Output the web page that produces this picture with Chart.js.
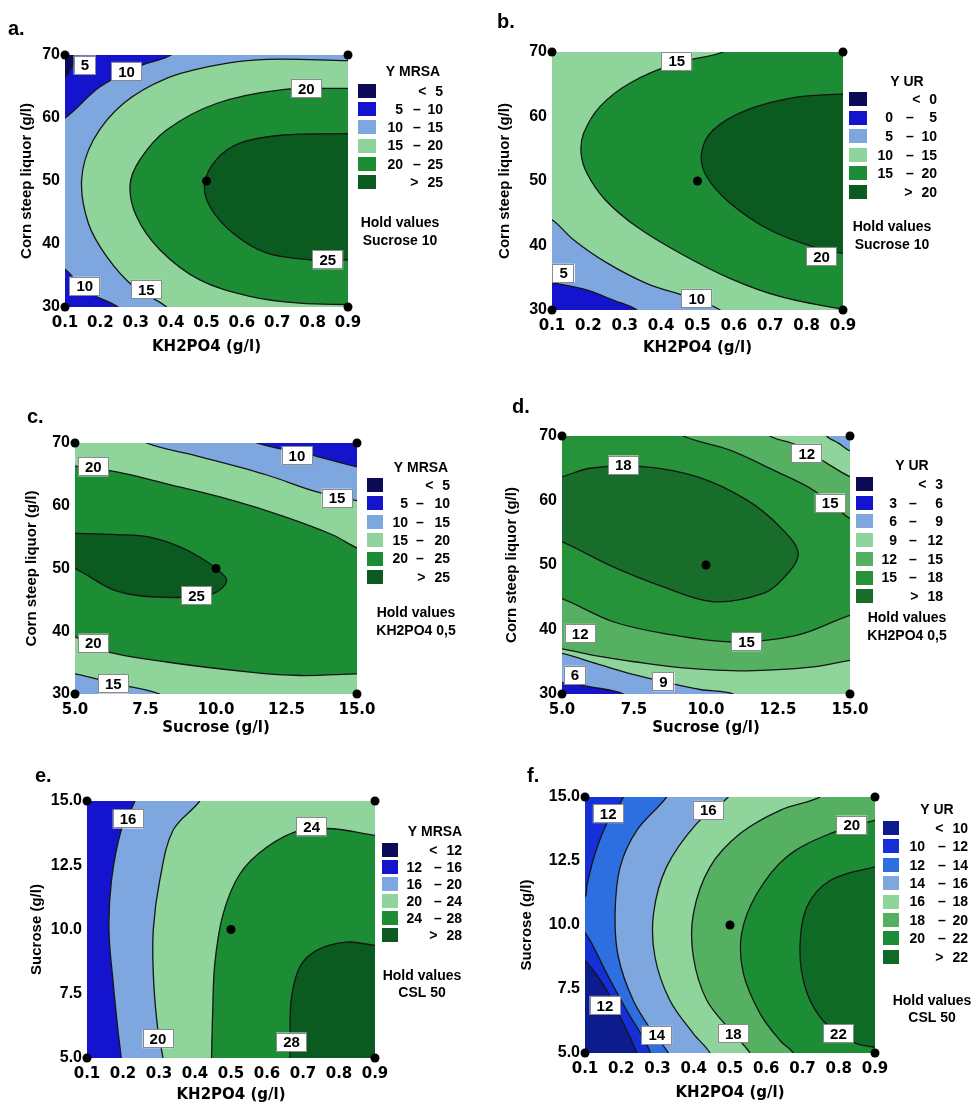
<!DOCTYPE html>
<html lang="en"><head><meta charset="utf-8"><title>Contour plots</title>
<script src="https://cdn.jsdelivr.net/npm/chart.js@4.4.1/dist/chart.umd.min.js"></script>
<style>
 html,body{margin:0;padding:0;background:#fff;}
 #page{position:relative;width:977px;height:1104px;overflow:hidden;background:#fff;}
 #page canvas{position:absolute;}
</style></head>
<body><div id="page">
<canvas id="cv-a"></canvas><canvas id="cv-b"></canvas>
<canvas id="cv-c"></canvas><canvas id="cv-d"></canvas>
<canvas id="cv-e"></canvas><canvas id="cv-f"></canvas>
</div>
<script>
// ---------------- tick values and tick labels ----------------
const khTickValues  = [0.1,0.2,0.3,0.4,0.5,0.6,0.7,0.8,0.9];
const khTickLabels  = ['0.1','0.2','0.3','0.4','0.5','0.6','0.7','0.8','0.9'];
const cslTickValues = [30,40,50,60,70];
const cslTickLabels = ['30','40','50','60','70'];
const sucTickValues = [5,7.5,10,12.5,15];
const sucTickLabels = ['5.0','7.5','10.0','12.5','15.0'];

// ---------------- contour levels (legend bands) ----------------
const aLevels = [5,10,15,20,25];
const bLevels = [0,5,10,15,20];
const cLevels = [5,10,15,20,25];
const dLevels = [3,6,9,12,15,18];
const eLevels = [12,16,20,24,28];
const fLevels = [10,12,14,16,18,20,22];

// ---------------- contour lines [x, y] ----------------
// a: Y MRSA, KH2PO4 vs CSL
const aC5   = [[0.1,66.5],[0.12,68.2],[0.145,70]];
const aC10t = [[0.1,60.0],[0.2,65.0],[0.31,68.2],[0.4,70]];
const aC10b = [[0.1,36.0],[0.16,32.5],[0.25,30]];
const aC15  = [[0.9,69.1],[0.669,69.3],[0.528,68.4],[0.387,66.3],[0.265,62.3],[0.18,56.5],[0.147,50.2],[0.166,43.3],[0.218,38.0],[0.293,33.3],[0.387,30]];
const aC20  = [[0.9,64.7],[0.716,64.5],[0.528,62.3],[0.387,58.1],[0.312,53.4],[0.284,49.4],[0.302,44.4],[0.368,39.1],[0.481,34.3],[0.622,31.7],[0.764,30.6],[0.9,30.4]];
const aC25  = [[0.9,57.5],[0.716,57.3],[0.594,56.0],[0.528,53.4],[0.495,49.7],[0.509,46.0],[0.575,41.7],[0.669,38.6],[0.792,37.5],[0.9,37.5]];
// b: Y UR, KH2PO4 vs CSL
const bC5   = [[0.1,34.2],[0.19,33.2],[0.27,31.5],[0.333,30]];
const bC10  = [[0.1,44.0],[0.159,40.9],[0.251,37.3],[0.361,34.1],[0.47,32.1],[0.562,30]];
const bC15  = [[0.571,70],[0.443,68.3],[0.315,65.2],[0.233,61.6],[0.187,57.4],[0.18,54.3],[0.196,51.2],[0.246,47.1],[0.333,42.9],[0.452,38.8],[0.589,34.9],[0.726,32.1],[0.9,30.1]];
const bC20  = [[0.9,63.5],[0.772,63.0],[0.635,61.0],[0.543,57.9],[0.511,54.3],[0.525,50.7],[0.589,46.6],[0.699,42.4],[0.818,39.8],[0.9,38.8]];
// c: Y MRSA, Sucrose vs CSL
const cC10  = [[11.45,70],[13.3,68.2],[15,66.2]];
const cC15u = [[7.54,70],[9.44,67.8],[11.8,64.9],[13.58,62.2],[15,60.8]];
const cC20u = [[5,66.3],[6.48,65.4],[8.25,63.5],[10.62,60.8],[12.4,58.3],[14.17,55.3],[15,53.3]];
const cC25  = [[5,55.6],[6.5,55.4],[7.66,55.0],[8.7,53.5],[9.43,51.8],[10.0,50.0],[10.38,48.1],[9.9,46.0],[8.25,45.4],[6.48,46.4],[5,50.0]];
const cC20l = [[5,39.1],[5.89,37.0],[8.25,35.1],[11.2,33.5],[12.98,32.95],[15,33.2]];
const cC15l = [[5,33.2],[6.48,31.6],[8.0,30]];
// d: Y UR, Sucrose vs CSL
const dC9t  = [[14.19,70],[14.6,68.9],[15,67.7]];
const dC12t = [[12.22,70],[13.15,68.6],[14.19,65.8],[15,63.7]];
const dC15t = [[9.21,70],[10.83,67.8],[12.34,64.7],[13.73,61.6],[15,57.2]];
const dC18  = [[5,63.7],[5.97,65.0],[7.71,65.3],[9.68,63.7],[11.41,60.1],[12.57,55.9],[13.2,51.8],[12.7,48.0],[11.99,45.6],[10.25,44.3],[8.52,46.6],[6.78,49.7],[5,53.6]];
const dC15b = [[5,44.8],[6.78,41.2],[8.52,39.4],[10.83,38.1],[13.15,39.1],[15,42.2]];
const dC12b = [[5,37.0],[6.2,35.9],[7.5,35.0],[9.1,34.1],[11.41,33.6],[13.73,34.2],[15,35.2]];
const dC9b  = [[5,36.3],[6.2,34.7],[7.5,33.0],[8.52,31.9],[9.8,30.7],[10.94,30]];
const dC6   = [[5,31.8],[6.0,31.1],[7.13,30]];
// e: Y MRSA, KH2PO4 vs Sucrose
const eC16  = [[0.233,15],[0.195,13.86],[0.168,11.91],[0.161,9.97],[0.172,8.02],[0.186,6.08],[0.195,5]];
const eC20  = [[0.413,15],[0.339,13.86],[0.302,11.91],[0.284,9.97],[0.285,8.02],[0.297,6.08],[0.311,5]];
const eC24  = [[0.9,13.66],[0.784,13.92],[0.691,13.86],[0.599,13.2],[0.525,12.17],[0.478,10.6],[0.455,8.67],[0.449,6.73],[0.446,5]];
const eC28  = [[0.9,9.38],[0.821,9.51],[0.738,9.19],[0.691,8.54],[0.668,7.37],[0.664,6.08],[0.664,5]];
// f: Y UR, KH2PO4 vs Sucrose
const fC10  = [[0.1,8.6],[0.16,7.45],[0.206,6.15],[0.243,5]];
const fC12u = [[0.206,15],[0.16,13.96],[0.128,12.8],[0.106,11.6],[0.1,11.1]];
const fC12l = [[0.1,9.7],[0.16,8.1],[0.215,6.67],[0.26,5.6],[0.28,5]];
const fC14  = [[0.325,15],[0.243,13.7],[0.197,12.27],[0.183,10.44],[0.192,8.75],[0.233,7.06],[0.289,5.76],[0.33,5]];
const fC16  = [[0.495,15],[0.408,13.96],[0.325,12.27],[0.289,10.44],[0.293,8.75],[0.334,7.06],[0.399,5.76],[0.445,5]];
const fC18  = [[0.748,15],[0.638,14.48],[0.528,13.57],[0.445,12.27],[0.399,10.44],[0.399,8.75],[0.436,7.06],[0.509,5.76],[0.555,5]];
const fC20  = [[0.9,14.09],[0.776,13.57],[0.656,12.66],[0.574,11.22],[0.532,9.66],[0.537,8.1],[0.583,6.54],[0.638,5.49],[0.675,5]];
const fC22  = [[0.9,12.27],[0.776,11.74],[0.712,10.7],[0.693,9.14],[0.707,7.58],[0.748,6.41],[0.799,5.76],[0.849,5.37],[0.9,5.23]];

// ---------------- contour labels [x, y, text] ----------------
const aLabels = [[0.156,68.4,'5'],[0.274,67.4,'10'],[0.782,64.7,'20'],[0.843,37.5,'25'],[0.156,33.3,'10'],[0.33,32.8,'15']];
const bLabels = [[0.443,68.6,'15'],[0.841,38.3,'20'],[0.132,35.7,'5'],[0.498,31.8,'10']];
const cLabels = [[12.87,68.0,'10'],[14.29,61.2,'15'],[5.65,66.2,'20'],[9.31,45.7,'25'],[5.65,38.1,'20'],[6.36,31.6,'15']];
const dLabels = [[13.5,67.3,'12'],[7.13,65.5,'18'],[14.31,59.6,'15'],[5.63,39.4,'12'],[11.41,38.1,'15'],[5.45,32.9,'6'],[8.52,31.9,'9']];
const eLabels = [[0.214,14.3,'16'],[0.724,14.0,'24'],[0.297,5.75,'20'],[0.668,5.62,'28']];
const fLabels = [[0.164,14.35,'12'],[0.44,14.48,'16'],[0.836,13.9,'20'],[0.155,6.86,'12'],[0.298,5.69,'14'],[0.509,5.76,'18'],[0.799,5.76,'22']];

// ---------------- design points [x, y] ----------------
const khCslDesign  = [[0.1,30],[0.1,70],[0.9,30],[0.9,70],[0.5,50]];
const sucCslDesign = [[5,30],[5,70],[15,30],[15,70],[10,50]];
const khSucDesign  = [[0.1,5],[0.1,15],[0.9,5],[0.9,15],[0.5,10]];

// ---------------- styles ----------------
const NAVY='#0b0b58', BLUE='#1414cf', MBLUE='#2d6fe0', LBLUE='#7ea7df', LGREEN='#8fd59b',
      MGREEN='#55b061', GREEN='#1c8d34', DGREEN='#0b5a1f',
      GREEN_D='#26933b', DGREEN_D='#186d2b', DGREEN_F='#0f6a25', NAVY_F='#0c1c8f', BLUE_F='#1530d8';
const LINE='#151515', TEXT='#000';
const SANS='"Liberation Sans", Arial, sans-serif';
const WIDE='"DejaVu Sans", Verdana, sans-serif';
const TITLE_HALF = 7.5;

const panels = [
 { id:'a', letter:'a.', xr:[0.1,0.9], yr:[30,70], xt:[khTickValues,khTickLabels], yt:[cslTickValues,cslTickLabels],
   xTitle:'KH2PO4 (g/l)', yTitle:'Corn steep liquor (g/l)', response:'Y MRSA', hold:['Hold values','Sucrose 10'],
   levels:aLevels, colors:[NAVY,BLUE,LBLUE,LGREEN,GREEN,DGREEN],
   regions:[[null,2,['TL','TR','BR','BL']],[aC15,3,['BR']],[aC20,4,[]],[aC25,5,[]],[aC10t,1,['TL']],[aC10b,1,['BL']],[aC5,0,['TL']]],
   labels:aLabels, design:khCslDesign,
   layout:{canvas:[0,0,488,375], plot:[65,348,55,307], yTitleX:27, xTitleY:347, letter:[8,35]},
   legend:{sq:10,sqW:18,sqH:14,n1:55,dash:69,n2:95,tX:65,tY:17,rY:36,step:18.2,hX:52,hY:168,hStep:18} },
 { id:'b', letter:'b.', xr:[0.1,0.9], yr:[30,70], xt:[khTickValues,khTickLabels], yt:[cslTickValues,cslTickLabels],
   xTitle:'KH2PO4 (g/l)', yTitle:'Corn steep liquor (g/l)', response:'Y UR', hold:['Hold values','Sucrose 10'],
   levels:bLevels, colors:[NAVY,BLUE,LBLUE,LGREEN,GREEN,DGREEN],
   regions:[[null,3,['TL','TR','BR','BL']],[bC15,4,['TR']],[bC20,5,[]],[bC10,2,['BL']],[bC5,1,['BL']]],
   labels:bLabels, design:khCslDesign,
   layout:{canvas:[488,0,489,375], plot:[552,843,52,310], yTitleX:505, xTitleY:348, letter:[497,28]},
   legend:{sq:6,sqW:18,sqH:14,n1:50,dash:67,n2:94,tX:64,tY:30,rY:47,step:18.6,hX:49,hY:175,hStep:18} },
 { id:'c', letter:'c.', xr:[5,15], yr:[30,70], xt:[sucTickValues,sucTickLabels], yt:[cslTickValues,cslTickLabels],
   xTitle:'Sucrose (g/l)', yTitle:'Corn steep liquor (g/l)', response:'Y MRSA', hold:['Hold values','KH2PO4 0,5'],
   levels:cLevels, colors:[NAVY,BLUE,LBLUE,LGREEN,GREEN,DGREEN],
   regions:[[null,4,['TL','TR','BR','BL']],[cC25,5,[]],[cC20u,3,['TR','TL']],[cC15u,2,['TR']],[cC10,1,['TR']],[cC20l,3,['BR','BL']],[cC15l,2,['BL']]],
   labels:cLabels, design:sucCslDesign,
   layout:{canvas:[0,375,488,380], plot:[75,357,443,694], yTitleX:32, xTitleY:728, letter:[27,423]},
   legend:{sq:10,sqW:16,sqH:14,n1:51,dash:63,n2:93,tX:64,tY:25,rY:42,step:18.4,hX:59,hY:170,hStep:18} },
 { id:'d', letter:'d.', xr:[5,15], yr:[30,70], xt:[sucTickValues,sucTickLabels], yt:[cslTickValues,cslTickLabels],
   xTitle:'Sucrose (g/l)', yTitle:'Corn steep liquor (g/l)', response:'Y UR', hold:['Hold values','KH2PO4 0,5'],
   levels:dLevels, colors:[NAVY,BLUE,LBLUE,LGREEN,MGREEN,GREEN_D,DGREEN_D],
   regions:[[null,5,['TL','TR','BR','BL']],[dC18,6,[]],[dC15t,4,['TR']],[dC12t,3,['TR']],[dC9t,2,['TR']],[dC15b,4,['BR','BL']],[dC12b,3,['BR','BL']],[dC9b,2,['BL']],[dC6,1,['BL']]],
   labels:dLabels, design:sucCslDesign,
   layout:{canvas:[488,375,489,380], plot:[562,850,436,694], yTitleX:512, xTitleY:728, letter:[512,413]},
   legend:{sq:6,sqW:17,sqH:14,n1:47,dash:63,n2:93,tX:62,tY:30,rY:48,step:18.7,hX:57,hY:182,hStep:18} },
 { id:'e', letter:'e.', xr:[0.1,0.9], yr:[5,15], xt:[khTickValues,khTickLabels], yt:[sucTickValues,sucTickLabels],
   xTitle:'KH2PO4 (g/l)', yTitle:'Sucrose (g/l)', response:'Y MRSA', hold:['Hold values','CSL 50'],
   levels:eLevels, colors:[NAVY,BLUE,LBLUE,LGREEN,GREEN,DGREEN],
   regions:[[null,1,['TL','TR','BR','BL']],[eC16,2,['BR','TR']],[eC20,3,['BR','TR']],[eC24,4,['BR']],[eC28,5,['BR']]],
   labels:eLabels, design:khSucDesign,
   layout:{canvas:[0,755,488,349], plot:[87,375,801,1058], yTitleX:37, xTitleY:1095, letter:[35,782]},
   legend:{sq:7,sqW:16,sqH:14,n1:47,dash:63,n2:87,tX:60,tY:31,rY:49,step:17,hX:47,hY:175,hStep:17} },
 { id:'f', letter:'f.', xr:[0.1,0.9], yr:[5,15], xt:[khTickValues,khTickLabels], yt:[sucTickValues,sucTickLabels],
   xTitle:'KH2PO4 (g/l)', yTitle:'Sucrose (g/l)', response:'Y UR', hold:['Hold values','CSL 50'],
   levels:fLevels, colors:[NAVY_F,BLUE_F,MBLUE,LBLUE,LGREEN,MGREEN,GREEN,DGREEN_F],
   regions:[[null,2,['TL','TR','BR','BL']],[fC14,3,['BR','TR']],[fC16,4,['BR','TR']],[fC18,5,['BR','TR']],[fC20,6,['BR']],[fC22,7,[]],[fC12u,1,['TL']],[fC12l,1,['BL']],[fC10,0,['BL']]],
   labels:fLabels, design:khSucDesign,
   layout:{canvas:[488,755,489,349], plot:[585,875,797,1053], yTitleX:527, xTitleY:1093, letter:[527,782]},
   legend:{sq:8,sqW:16,sqH:14,n1:50,dash:67,n2:93,tX:62,tY:13,rY:31,step:18.4,hX:57,hY:204,hStep:17} }
];

// closed outline of a filled region: contour line + points outside the plot area (clipped away)
function buildPolygon(pts, corners, xr, yr) {
  const wx = xr[1]-xr[0], wy = yr[1]-yr[0], E = 0.03, C = 0.12;
  const cornerAt = {
    TL:[xr[0]-C*wx, yr[1]+C*wy], TR:[xr[1]+C*wx, yr[1]+C*wy],
    BR:[xr[1]+C*wx, yr[0]-C*wy], BL:[xr[0]-C*wx, yr[0]-C*wy]
  };
  const outward = p => {
    const d = [(p[0]-xr[0])/wx, (xr[1]-p[0])/wx, (p[1]-yr[0])/wy, (yr[1]-p[1])/wy];
    const k = d.indexOf(Math.min(...d));
    return [[xr[0]-E*wx,p[1]],[xr[1]+E*wx,p[1]],[p[0],yr[0]-E*wy],[p[0],yr[1]+E*wy]][k];
  };
  const seq = [];
  if (pts) seq.push(outward(pts[0]), ...pts, outward(pts[pts.length-1]));
  corners.forEach(c => seq.push(cornerAt[c]));
  seq.push(seq[0]);
  return seq.map(([x,y]) => ({x, y}));
}

function labelPlugin(p) {
  return { id:'clabels'+p.id, afterDatasetsDraw(chart) {
    const ctx = chart.ctx, xs = chart.scales.x, ys = chart.scales.y;
    ctx.save();
    ctx.font = 'bold 15px ' + SANS; ctx.textAlign = 'center'; ctx.textBaseline = 'middle';
    p.labels.forEach(([x, y, t]) => {
      const px = xs.getPixelForValue(x), py = ys.getPixelForValue(y);
      const w = ctx.measureText(t).width + 14, h = 19;
      ctx.fillStyle = '#fff'; ctx.fillRect(px - w/2, py - h/2, w, h);
      ctx.strokeStyle = '#8a8a8a'; ctx.lineWidth = 1; ctx.strokeRect(Math.round(px - w/2)+0.5, Math.round(py - h/2)+0.5, Math.round(w)-1, h-1);
      ctx.fillStyle = TEXT; ctx.fillText(t, px, py + 1);
    });
    ctx.restore();
  }};
}

function sidePlugin(p) {
  const G = p.legend, L = p.layout;
  return { id:'side'+p.id, afterDraw(chart) {
    const ctx = chart.ctx, R = chart.chartArea.right, T = chart.chartArea.top;
    ctx.save();
    ctx.fillStyle = TEXT;
    ctx.font = 'bold 20px ' + SANS; ctx.textAlign = 'left'; ctx.textBaseline = 'alphabetic';
    ctx.fillText(p.letter, L.letter[0] - L.canvas[0], L.letter[1] - L.canvas[1]);
    ctx.font = 'bold 14px ' + SANS; ctx.textBaseline = 'middle'; ctx.textAlign = 'center';
    ctx.fillText(p.response, R + G.tX, T + G.tY);
    const lv = p.levels, n = lv.length;
    for (let i = 0; i <= n; i++) {
      const y = T + G.rY + i * G.step;
      ctx.fillStyle = p.colors[i];
      ctx.fillRect(R + G.sq, Math.round(y - G.sqH/2), G.sqW, G.sqH);
      ctx.fillStyle = TEXT;
      if (i === 0 || i === n) {
        const num = String(i === 0 ? lv[0] : lv[n-1]);
        const w = ctx.measureText(num).width;
        ctx.textAlign = 'right'; ctx.fillText(num, R + G.n2, y + 1);
        ctx.textAlign = 'center'; ctx.fillText(i === 0 ? '<' : '>', R + G.n2 - w - 13, y + 1);
      } else {
        ctx.textAlign = 'right'; ctx.fillText(String(lv[i-1]), R + G.n1, y + 1);
        ctx.textAlign = 'center'; ctx.fillText('–', R + G.dash, y + 1);
        ctx.textAlign = 'right'; ctx.fillText(String(lv[i]), R + G.n2, y + 1);
      }
    }
    ctx.textAlign = 'center';
    p.hold.forEach((t, k) => ctx.fillText(t, R + G.hX, T + G.hY + k * G.hStep));
    ctx.restore();
  }};
}

panels.forEach(p => {
  const L = p.layout, [cl, ct, cw, ch] = L.canvas, [PL, PR, PT, PB] = L.plot;
  const cv = document.getElementById('cv-' + p.id);
  cv.width = cw; cv.height = ch;
  cv.style.left = cl + 'px'; cv.style.top = ct + 'px'; cv.style.width = cw + 'px'; cv.style.height = ch + 'px';
  const padLeft = L.yTitleX - TITLE_HALF - cl;
  const yAxisW = PL - cl - padLeft;
  const xScaleBottom = L.xTitleY + TITLE_HALF;
  const padBottom = ct + ch - xScaleBottom;
  const xAxisH = xScaleBottom - PB;

  const datasets = p.regions.map((r, i) => ({
    data: buildPolygon(r[0], r[2], p.xr, p.yr),
    showLine: true, fill: 'shape',
    backgroundColor: p.colors[r[1]],
    borderColor: r[0] ? LINE : 'rgba(0,0,0,0)', borderWidth: r[0] ? 1.3 : 1,
    pointRadius: 0, pointHoverRadius: 0, pointHitRadius: 0,
    tension: r[0] ? 0.35 : 0, order: -i
  }));
  datasets.push({
    data: p.design.map(([x, y]) => ({x, y})), showLine: false,
    pointRadius: 4.5, pointBackgroundColor: '#000', pointBorderWidth: 0, pointHoverRadius: 4.5,
    clip: false, order: -100
  });

  new Chart(cv, {
    type: 'scatter',
    data: { datasets },
    options: {
      responsive: false, animation: false, events: [], devicePixelRatio: 1,
      layout: { padding: { left: padLeft, right: cl + cw - PR, top: PT - ct, bottom: padBottom } },
      plugins: { legend: { display: false }, tooltip: { enabled: false } },
      scales: {
        x: {
          type: 'linear', min: p.xr[0], max: p.xr[1],
          afterBuildTicks: s => { s.ticks = p.xt[0].map(v => ({ value: v })); },
          ticks: { callback: (v, i) => p.xt[1][i], color: TEXT, padding: 7, maxRotation: 0, autoSkip: false,
                   font: { family: WIDE, weight: 'bold', size: 15 } },
          grid: { display: false, drawTicks: false }, border: { display: false },
          title: { display: true, text: p.xTitle, color: TEXT, padding: 0,
                   font: { family: WIDE, weight: 'bold', size: 15, lineHeight: 1 } },
          afterFit: s => { s.height = xAxisH; }
        },
        y: {
          type: 'linear', min: p.yr[0], max: p.yr[1],
          afterBuildTicks: s => { s.ticks = p.yt[0].map(v => ({ value: v })); },
          ticks: { callback: (v, i) => p.yt[1][i], color: TEXT, padding: 5, autoSkip: false,
                   font: { family: SANS, weight: 'bold', size: 16 } },
          grid: { display: false, drawTicks: false }, border: { display: false },
          title: { display: true, text: p.yTitle, color: TEXT, padding: 0,
                   font: { family: SANS, weight: 'bold', size: 15, lineHeight: 1 } },
          afterFit: s => { s.width = yAxisW; }
        }
      }
    },
    plugins: [labelPlugin(p), sidePlugin(p)]
  });
});
</script>
</body></html>
